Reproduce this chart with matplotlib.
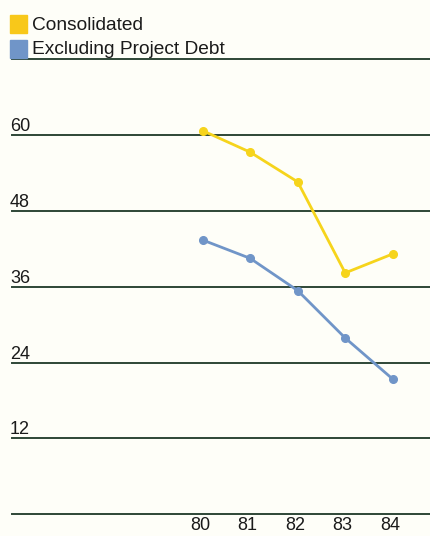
import matplotlib.pyplot as plt
from matplotlib.patches import Rectangle
from matplotlib.transforms import blended_transform_factory

years = [80, 81, 82, 83, 84]
consolidated = [60.7, 57.3, 52.6, 38.2, 41.2]
excluding_project_debt = [43.4, 40.5, 35.4, 27.9, 21.4]
grid_values = [0, 12, 24, 36, 48, 60, 72]
labelled_values = [12, 24, 36, 48, 60]
legend_labels = ['Consolidated', 'Excluding Project Debt']

yellow = '#f6d41c'
blue = '#7095c8'
rule = '#2e4636'
bg = '#fefef8'
W, H = 431, 536

plt.rcParams['font.family'] = ['Liberation Sans', 'DejaVu Sans']

fig = plt.figure(figsize=(W / 100, H / 100), dpi=100, facecolor=bg)
ax = fig.add_axes([12 / W, 21.7 / H, 1 - 12 / W, 455 / H])
ax.set_facecolor(bg)
ax.set_xlim(75.985, 84.806)
ax.set_ylim(0, 72)

for v in grid_values:
    ax.axhline(v, color=rule, lw=1.4, zorder=1, clip_on=False)

trans = blended_transform_factory(ax.transAxes, ax.transData)
for v in labelled_values:
    ax.text(-0.005, v + 0.63, str(v), transform=trans, ha='left', va='baseline',
            fontsize=13, color='#1a1a1a')

ax.plot(years, consolidated, color=yellow, lw=2, marker='o', ms=5.5, zorder=3)
ax.plot(years, excluding_project_debt, color=blue, lw=2, marker='o', ms=5.5, zorder=3)

for x in years:
    ax.text(x - 0.06, -2.5, str(x), ha='center', va='baseline', fontsize=13,
            color='#1a1a1a', clip_on=False)

for s in ax.spines.values():
    s.set_visible(False)
ax.set_xticks([])
ax.set_yticks([])

# legend: coloured squares with labels, placed in pixel terms
swatches = ['#f8c81a', blue]
for i, (lab, c) in enumerate(zip(legend_labels, swatches)):
    top = 15 + i * 25
    fig.add_artist(Rectangle((10 / W, 1 - (top + 18) / H), 17 / W, 18 / H,
                             color=c, transform=fig.transFigure))
    fig.text(32 / W, 1 - (top + 14.5) / H, lab, ha='left', va='baseline',
             fontsize=13.8, color='#1a1a1a')

fig.savefig('out.png', dpi=100, facecolor=bg)
